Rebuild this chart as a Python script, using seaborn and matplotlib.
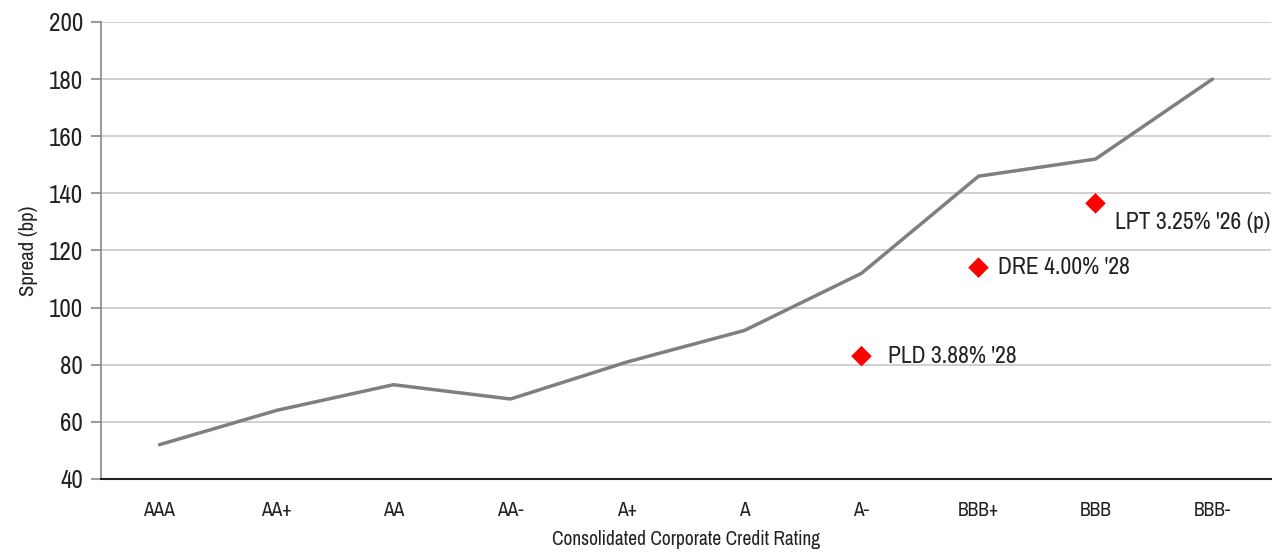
import matplotlib
matplotlib.use("Agg")
import matplotlib.pyplot as plt
from matplotlib import font_manager
import seaborn as sns
import pandas as pd

ratings = ["AAA", "AA+", "AA", "AA-", "A+", "A", "A-", "BBB+", "BBB", "BBB-"]
spreads = [52, 64, 73, 68, 81, 92, 112, 146, 152, 180]

bond_labels = ["PLD 3.88% '28", "DRE 4.00% '28", "LPT 3.25% '26 (p)"]
bond_ratings = ["A-", "BBB+", "BBB"]
bond_spreads = [83, 114, 136.5]

sns.set_theme(style="white")
names = sorted({f.name for f in font_manager.fontManager.ttflist})
cond = [n for n in names if ("Condensed" in n or "Narrow" in n)]
fam = cond[:1] + ['Roboto', 'DejaVu Sans']
plt.rcParams['font.family'] = fam
narrow = bool(cond)
k = 1.0 if narrow else 0.85

fig = plt.figure(figsize=(12.81, 5.55), dpi=100)
ax = fig.add_axes([0.0788, 0.137, 0.9134, 0.8234])

df = pd.DataFrame({"rating": ratings, "spread": spreads})
df["x"] = range(len(ratings))
sns.lineplot(data=df, x="x", y="spread", ax=ax, color="#7f7f7f", linewidth=2.5)

pos = {r: i for i, r in enumerate(ratings)}
bdf = pd.DataFrame({"label": bond_labels, "x": [pos[r] for r in bond_ratings], "spread": bond_spreads})
sns.scatterplot(data=bdf, x="x", y="spread", ax=ax, marker="D", color="#ff0000", s=110, edgecolor="none", zorder=5)

offsets = [(19, 0, "center"), (14, 0, "center"), (14, -6, "top")]
for (lab, xv, yv), (dx, dy, va) in zip(bdf[["label", "x", "spread"]].values, offsets):
    ax.annotate(lab, (xv, yv), xytext=(dx, dy), textcoords="offset points",
                fontsize=17 * k, va=va, ha="left", color="#222222")

ax.set_xlim(-0.5, 9.5)
ax.set_ylim(40, 200)
ax.set_yticks(range(40, 201, 20))
ax.set_xticks(range(len(ratings)))
ax.set_xticklabels(ratings)
ax.yaxis.grid(True, color="#c8c8c8", linewidth=1.2)
ax.set_axisbelow(True)
for s in ["top", "right"]:
    ax.spines[s].set_visible(False)
ax.spines["left"].set_color("#888888")
ax.spines["left"].set_linewidth(1.2)
ax.spines["bottom"].set_color("#222222")
ax.spines["bottom"].set_linewidth(1.5)
ax.tick_params(axis="y", which="major", left=True, length=7, width=1.2, color="#888888",
               labelsize=18 * k, pad=6, labelcolor="#222222")
ax.tick_params(axis="x", bottom=False, labelsize=14 * k, pad=10, labelcolor="#222222")
ax.set_xlabel("Consolidated Corporate Credit Rating", fontsize=14 * k, color="#222222", labelpad=7)
ax.set_ylabel("Spread (bp)", fontsize=15 * k, color="#222222", labelpad=8)

fig.savefig("out.png", dpi=100)
